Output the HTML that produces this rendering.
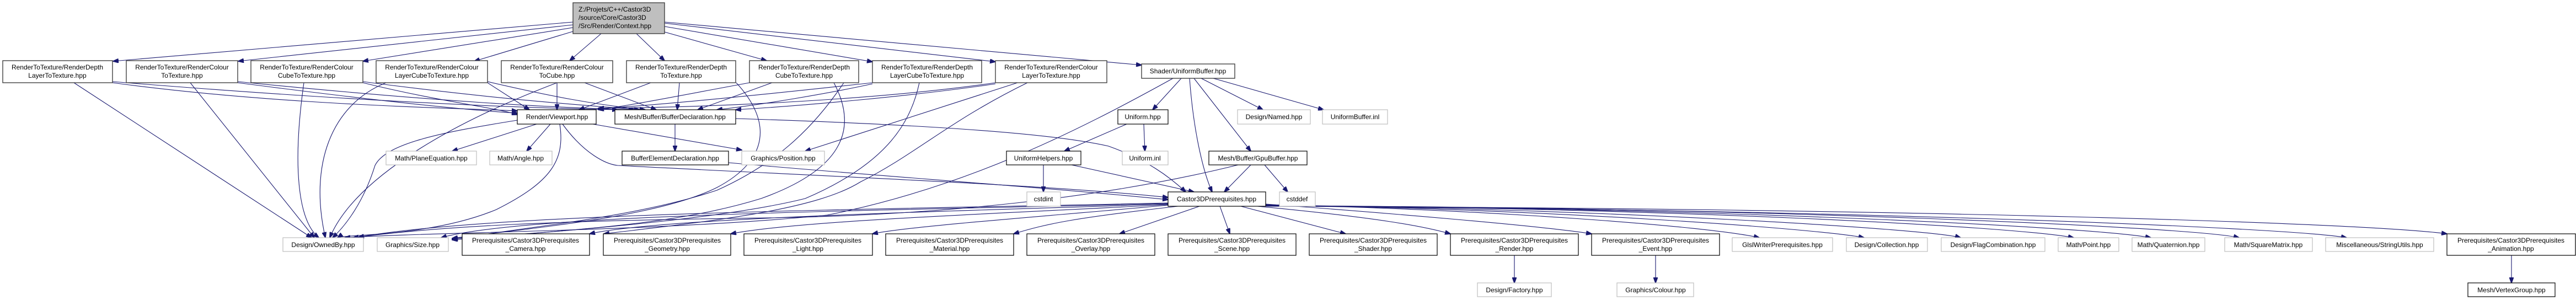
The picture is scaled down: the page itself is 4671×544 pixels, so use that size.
<!DOCTYPE html>
<html><head><meta charset="utf-8"><style>
html,body{margin:0;padding:0;background:#fff;}
svg{display:block;}
text{font-family:"Liberation Sans",sans-serif;font-size:12px;fill:#000;}
.b{fill:#fff;stroke:#000;stroke-width:1.2;}
.t{fill:#fff;stroke:#404040;stroke-width:1.4;}
.g{fill:#fff;stroke:#bfbfbf;stroke-width:1.2;}
.e{fill:none;stroke:#191970;stroke-width:1.1;}
</style></head><body>
<svg width="4671" height="544" viewBox="0 0 4671 544" xmlns="http://www.w3.org/2000/svg">
<defs><marker id="a" markerWidth="11" markerHeight="8" refX="10" refY="4" orient="auto" markerUnits="userSpaceOnUse"><path d="M0,0 L11,4 L0,8 z" fill="#191970" stroke="#191970"/></marker></defs>
<g class="e" marker-end="url(#a)">
<path d="M1039,40 L205,111"/>
<path d="M1039,45 L432,111"/>
<path d="M1039,50 L658,111"/>
<path d="M1039,57 L860,111"/>
<path d="M1090,61 L1033,110"/>
<path d="M1154,61 L1205,110"/>
<path d="M1205,58 L1390,110"/>
<path d="M1205,48 L1582,112"/>
<path d="M1205,42 L1805,112"/>
<path d="M1205,40 L2070,118"/>
<path d="M134,150 L565,431"/>
<path d="M345,150 L570,431"/>
<path d="M551,150 C530,300 540,400 578,431"/>
<path d="M700,150 C600,190 560,300 590,431"/>
<path d="M1010,150 C800,230 640,330 598,431"/>
<path d="M938,218 C800,240 700,260 680,300 C655,380 615,420 603,431"/>
<path d="M1015,225 C1025,290 1000,330 900,380 C780,430 620,425 612,431"/>
<path d="M204,150 C500,190 800,195 938,201"/>
<path d="M204,148 C600,180 900,195 1120,199"/>
<path d="M431,150 C700,185 850,200 938,205"/>
<path d="M431,148 C800,185 1000,195 1150,199"/>
<path d="M658,150 C800,185 900,195 938,208"/>
<path d="M658,148 C900,180 1050,190 1160,199"/>
<path d="M884,150 L960,199"/>
<path d="M884,148 C1000,175 1080,190 1170,199"/>
<path d="M1010,150 L1010,199"/>
<path d="M1060,150 L1190,199"/>
<path d="M1180,150 L1050,199"/>
<path d="M1232,150 L1228,199"/>
<path d="M1359,150 C1250,170 1150,190 1085,199"/>
<path d="M1400,150 L1265,199"/>
<path d="M1582,150 C1400,170 1200,190 1085,197"/>
<path d="M1582,152 C1500,170 1380,190 1300,199"/>
<path d="M1805,150 C1600,180 1300,195 1085,196"/>
<path d="M1805,152 C1650,175 1450,192 1334,199"/>
<path d="M1845,150 L1460,274"/>
<path d="M1863,150 C1720,220 1660,280 1560,330 C1480,380 1300,400 1095,424"/>
<path d="M1335,150 C1400,220 1395,290 1300,340 C1200,390 1000,410 820,432"/>
<path d="M1512,150 C1560,240 1520,310 1380,360 C1250,400 1100,415 820,433"/>
<path d="M1530,150 C1470,240 1400,300 1300,345 C1150,395 950,412 820,434"/>
<path d="M1667,150 C1650,230 1600,300 1460,360 C1300,400 1000,420 820,435"/>
<path d="M973,225 L820,274"/>
<path d="M998,225 L955,274"/>
<path d="M1075,225 L1345,272"/>
<path d="M1020,225 C1060,280 1100,298 1120,300 C1500,320 1900,335 2118,358"/>
<path d="M1224,225 L1224,274"/>
<path d="M1334,215 C1650,225 1900,240 2010,265 C2080,290 2120,320 2150,348"/>
<path d="M1321,295 C1600,320 1900,340 2118,362"/>
<path d="M2142,142 L2090,199"/>
<path d="M2178,142 L2290,199"/>
<path d="M2200,142 L2400,199"/>
<path d="M2165,142 L2268,274"/>
<path d="M2157,142 C2165,250 2185,320 2198,348"/>
<path d="M2127,142 C1950,240 1750,340 1500,390 C1200,420 800,420 625,431"/>
<path d="M2043,225 L1930,274"/>
<path d="M2074,225 L2076,274"/>
<path d="M1892,299 L1892,348"/>
<path d="M1943,299 L2165,348"/>
<path d="M2268,299 L2220,348"/>
<path d="M2293,299 L2335,348"/>
<path d="M2245,299 C2000,360 1700,390 1400,395 C1000,400 800,410 640,431"/>
<path d="M2118,368 C1600,380 900,385 650,430"/>
<path d="M2118,369 C1600,382 950,388 800,431"/>
<path d="M2118,370 C1700,384 1200,395 1069,424"/>
<path d="M2118,371 C1800,388 1450,400 1325,424"/>
<path d="M2118,372 C1900,392 1650,410 1582,424"/>
<path d="M2136,374 C1950,395 1900,405 1838,424"/>
<path d="M2175,374 L2030,424"/>
<path d="M2212,374 L2230,424"/>
<path d="M2250,374 L2440,424"/>
<path d="M2280,374 C2500,395 2580,410 2630,424"/>
<path d="M2295,370 C2500,385 2800,410 2886,424"/>
<path d="M2295,371 C2700,380 3100,410 3190,431"/>
<path d="M2295,372 C2800,378 3300,415 3380,431"/>
<path d="M2295,372 C2900,378 3500,415 3555,431"/>
<path d="M2295,373 C3000,376 3650,410 3760,431"/>
<path d="M2295,373 C3100,376 3800,412 3900,431"/>
<path d="M2295,373 C3200,376 3980,412 4060,431"/>
<path d="M2295,374 C3300,378 4150,412 4255,431"/>
<path d="M2295,374 C3500,378 4300,405 4437,424"/>
<path d="M2746,463 L2746,513"/>
<path d="M3002,463 L3002,513"/>
<path d="M4554,463 L4554,513"/>
</g>
<rect x="1039" y="5" width="166" height="56" fill="#bfbfbf" stroke="#404040" stroke-width="1.4"/>
<text x="1049" y="21">Z:/Projets/C++/Castor3D</text>
<text x="1049" y="36">/source/Core/Castor3D</text>
<text x="1049" y="51">/Src/Render/Context.hpp</text>
<g text-anchor="middle">
<rect class="t" x="5" y="110" width="199" height="40"/><text x="104" y="126">RenderToTexture/RenderDepth</text><text x="104" y="141">LayerToTexture.hpp</text>
<rect class="t" x="229" y="110" width="202" height="40"/><text x="330" y="126">RenderToTexture/RenderColour</text><text x="330" y="141">ToTexture.hpp</text>
<rect class="t" x="455" y="110" width="203" height="40"/><text x="556" y="126">RenderToTexture/RenderColour</text><text x="556" y="141">CubeToTexture.hpp</text>
<rect class="t" x="682" y="110" width="202" height="40"/><text x="783" y="126">RenderToTexture/RenderColour</text><text x="783" y="141">LayerCubeToTexture.hpp</text>
<rect class="t" x="909" y="110" width="202" height="40"/><text x="1010" y="126">RenderToTexture/RenderColour</text><text x="1010" y="141">ToCube.hpp</text>
<rect class="t" x="1136" y="110" width="198" height="40"/><text x="1235" y="126">RenderToTexture/RenderDepth</text><text x="1235" y="141">ToTexture.hpp</text>
<rect class="t" x="1359" y="110" width="198" height="40"/><text x="1458" y="126">RenderToTexture/RenderDepth</text><text x="1458" y="141">CubeToTexture.hpp</text>
<rect class="t" x="1582" y="110" width="198" height="40"/><text x="1681" y="126">RenderToTexture/RenderDepth</text><text x="1681" y="141">LayerCubeToTexture.hpp</text>
<rect class="t" x="1805" y="110" width="202" height="40"/><text x="1906" y="126">RenderToTexture/RenderColour</text><text x="1906" y="141">LayerToTexture.hpp</text>
<rect class="t" x="2070" y="116" width="169" height="26"/><text x="2154" y="133">Shader/UniformBuffer.hpp</text>
<rect class="b" x="938" y="199" width="143" height="26"/><text x="1010" y="216">Render/Viewport.hpp</text>
<rect class="b" x="1115" y="199" width="219" height="26"/><text x="1224" y="216">Mesh/Buffer/BufferDeclaration.hpp</text>
<rect class="b" x="2027" y="199" width="91" height="26"/><text x="2072" y="216">Uniform.hpp</text>
<rect class="g" x="2244" y="199" width="132" height="26"/><text x="2310" y="216">Design/Named.hpp</text>
<rect class="g" x="2398" y="199" width="118" height="26"/><text x="2457" y="216">UniformBuffer.inl</text>
<rect class="g" x="700" y="274" width="164" height="25"/><text x="782" y="291">Math/PlaneEquation.hpp</text>
<rect class="g" x="888" y="274" width="113" height="25"/><text x="944" y="291">Math/Angle.hpp</text>
<rect class="b" x="1128" y="274" width="193" height="25"/><text x="1224" y="291">BufferElementDeclaration.hpp</text>
<rect class="g" x="1345" y="274" width="150" height="25"/><text x="1420" y="291">Graphics/Position.hpp</text>
<rect class="b" x="1825" y="274" width="135" height="25"/><text x="1892" y="291">UniformHelpers.hpp</text>
<rect class="g" x="2035" y="274" width="83" height="25"/><text x="2076" y="291">Uniform.inl</text>
<rect class="b" x="2192" y="274" width="178" height="25"/><text x="2281" y="291">Mesh/Buffer/GpuBuffer.hpp</text>
<rect class="g" x="1862" y="348" width="61" height="26"/><text x="1892" y="365">cstdint</text>
<rect class="b" x="2118" y="348" width="177" height="26"/><text x="2206" y="365">Castor3DPrerequisites.hpp</text>
<rect class="g" x="2320" y="348" width="65" height="26"/><text x="2352" y="365">cstddef</text>
<rect class="g" x="513" y="431" width="146" height="25"/><text x="586" y="448">Design/OwnedBy.hpp</text>
<rect class="g" x="684" y="431" width="129" height="25"/><text x="748" y="448">Graphics/Size.hpp</text>
<rect class="b" x="838" y="424" width="231" height="39"/><text x="953" y="440">Prerequisites/Castor3DPrerequisites</text><text x="953" y="455">_Camera.hpp</text>
<rect class="b" x="1094" y="424" width="231" height="39"/><text x="1210" y="440">Prerequisites/Castor3DPrerequisites</text><text x="1210" y="455">_Geometry.hpp</text>
<rect class="b" x="1349" y="424" width="233" height="39"/><text x="1465" y="440">Prerequisites/Castor3DPrerequisites</text><text x="1465" y="455">_Light.hpp</text>
<rect class="b" x="1606" y="424" width="232" height="39"/><text x="1722" y="440">Prerequisites/Castor3DPrerequisites</text><text x="1722" y="455">_Material.hpp</text>
<rect class="b" x="1862" y="424" width="232" height="39"/><text x="1978" y="440">Prerequisites/Castor3DPrerequisites</text><text x="1978" y="455">_Overlay.hpp</text>
<rect class="b" x="2118" y="424" width="232" height="39"/><text x="2234" y="440">Prerequisites/Castor3DPrerequisites</text><text x="2234" y="455">_Scene.hpp</text>
<rect class="b" x="2374" y="424" width="232" height="39"/><text x="2490" y="440">Prerequisites/Castor3DPrerequisites</text><text x="2490" y="455">_Shader.hpp</text>
<rect class="b" x="2630" y="424" width="232" height="39"/><text x="2746" y="440">Prerequisites/Castor3DPrerequisites</text><text x="2746" y="455">_Render.hpp</text>
<rect class="b" x="2886" y="424" width="232" height="39"/><text x="3002" y="440">Prerequisites/Castor3DPrerequisites</text><text x="3002" y="455">_Event.hpp</text>
<rect class="g" x="3141" y="431" width="182" height="25"/><text x="3232" y="448">GlslWriterPrerequisites.hpp</text>
<rect class="g" x="3348" y="431" width="147" height="25"/><text x="3421" y="448">Design/Collection.hpp</text>
<rect class="g" x="3520" y="431" width="188" height="25"/><text x="3614" y="448">Design/FlagCombination.hpp</text>
<rect class="g" x="3732" y="431" width="110" height="25"/><text x="3787" y="448">Math/Point.hpp</text>
<rect class="g" x="3866" y="431" width="132" height="25"/><text x="3932" y="448">Math/Quaternion.hpp</text>
<rect class="g" x="4034" y="431" width="159" height="25"/><text x="4113" y="448">Math/SquareMatrix.hpp</text>
<rect class="g" x="4217" y="431" width="196" height="25"/><text x="4315" y="448">Miscellaneous/StringUtils.hpp</text>
<rect class="b" x="4437" y="424" width="233" height="39"/><text x="4553" y="440">Prerequisites/Castor3DPrerequisites</text><text x="4553" y="455">_Animation.hpp</text>
<rect class="g" x="2679" y="513" width="134" height="25"/><text x="2746" y="530">Design/Factory.hpp</text>
<rect class="g" x="2932" y="513" width="139" height="25"/><text x="3002" y="530">Graphics/Colour.hpp</text>
<rect class="b" x="4475" y="513" width="158" height="25"/><text x="4554" y="530">Mesh/VertexGroup.hpp</text>
</g>
</svg>
</body></html>
